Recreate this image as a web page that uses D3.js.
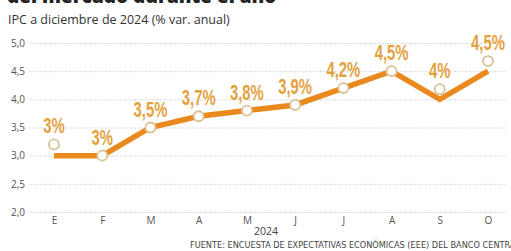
<!DOCTYPE html>
<html>
<head>
<meta charset="utf-8">
<script src="https://cdn.jsdelivr.net/npm/d3@7"></script>
<style>
  body { margin: 0; background: #fff; }
  svg { display: block; }
</style>
</head>
<body>
<div id="chart"></div>
<script>
const months = ['E', 'F', 'M', 'A', 'M', 'J', 'J', 'A', 'S', 'O']
const lineValues = [3.0, 3.0, 3.5, 3.7, 3.8, 3.9, 4.2, 4.5, 4.0, 4.5]
const dotValues = [3.2, 3.0, 3.5, 3.7, 3.8, 3.9, 4.2, 4.5, 4.18, 4.68]
const valueLabels = ['3%', '3%', '3,5%', '3,7%', '3,8%', '3,9%', '4,2%', '4,5%', '4%', '4,5%']
const yTicks = [2.0, 2.5, 3.0, 3.5, 4.0, 4.5, 5.0]

const width = 511
const height = 251

const svg = d3.select('#chart').append('svg')
  .attr('width', width)
  .attr('height', height)

const x = d3.scalePoint()
  .domain(d3.range(months.length))
  .range([54, 488])

const y = d3.scaleLinear()
  .domain([2, 5])
  .range([212, 43])

// title (cut off at the top) and subtitle
svg.append('text')
  .attr('x', 7)
  .attr('y', 3)
  .attr('font-family', 'Open Sans, sans-serif')
  .attr('font-weight', 800)
  .attr('font-size', 19)
  .attr('fill', '#222')
  .text('del mercado durante el año')

svg.append('text')
  .attr('x', 8)
  .attr('y', 24)
  .attr('font-family', 'Open Sans, sans-serif')
  .attr('font-size', 12.5)
  .attr('fill', '#333')
  .text('IPC a diciembre de 2024 (% var. anual)')

// y axis with dotted grid
const yAxis = svg.append('g')
  .attr('transform', 'translate(25,0)')
  .call(d3.axisLeft(y)
    .tickValues(yTicks)
    .tickSize(-(width - 30))
    .tickPadding(6)
    .tickFormat(d => d3.format('.1f')(d).replace('.', ',')))

yAxis.select('.domain').remove()
yAxis.selectAll('.tick line')
  .attr('x1', 5)
  .attr('stroke', '#b5b5b5')
  .attr('stroke-dasharray', '1,1.5')
  .attr('stroke-width', 0.8)
yAxis.selectAll('.tick text')
  .attr('x', 0)
  .attr('font-family', 'Open Sans, sans-serif')
  .attr('font-size', 10)
  .attr('fill', '#555')

// x axis
const xAxis = svg.append('g')
  .attr('transform', 'translate(0,212)')
  .call(d3.axisBottom(x)
    .tickSize(0)
    .tickPadding(5)
    .tickFormat(i => months[i]))

xAxis.select('.domain').remove()
xAxis.selectAll('.tick text')
  .attr('font-family', 'Open Sans, sans-serif')
  .attr('font-size', 10)
  .attr('fill', '#555')

svg.append('text')
  .attr('x', 266)
  .attr('y', 235)
  .attr('text-anchor', 'middle')
  .attr('font-family', 'Open Sans, sans-serif')
  .attr('font-size', 10.5)
  .attr('fill', '#444')
  .text('2024')

svg.append('text')
  .attr('x', 190)
  .attr('y', 248)
  .attr('font-family', 'DejaVu Sans Condensed, sans-serif')
  .attr('font-size', 9)
  .attr('fill', '#444')
  .attr('textLength', 330)
  .attr('lengthAdjust', 'spacingAndGlyphs')
  .text('FUENTE: ENCUESTA DE EXPECTATIVAS ECONÓMICAS (EEE) DEL BANCO CENTRAL')

// line
const line = d3.line()
  .x((d, i) => x(i))
  .y(d => y(d))

svg.append('path')
  .datum(lineValues)
  .attr('d', line)
  .attr('fill', 'none')
  .attr('stroke', '#ea8a1e')
  .attr('stroke-width', 5.5)
  .attr('stroke-linejoin', 'miter')

// dots
svg.selectAll('circle.dot')
  .data(dotValues)
  .enter()
  .append('circle')
  .attr('class', 'dot')
  .attr('cx', (d, i) => x(i))
  .attr('cy', d => y(d))
  .attr('r', 5)
  .attr('fill', '#fff')
  .attr('stroke', '#d9c294')
  .attr('stroke-width', 1.8)

// value labels, squeezed to look condensed
svg.selectAll('g.val')
  .data(valueLabels)
  .enter()
  .append('g')
  .attr('class', 'val')
  .attr('transform', (d, i) => 'translate(' + x(i) + ',' + (y(dotValues[i]) - 11) + ') scale(0.66,1)')
  .append('text')
  .attr('text-anchor', 'middle')
  .attr('font-family', 'Liberation Sans, Arial, sans-serif')
  .attr('font-weight', 'bold')
  .attr('font-size', 22.5)
  .attr('fill', '#e3a23f')
  .text(d => d)
</script>
</body>
</html>
